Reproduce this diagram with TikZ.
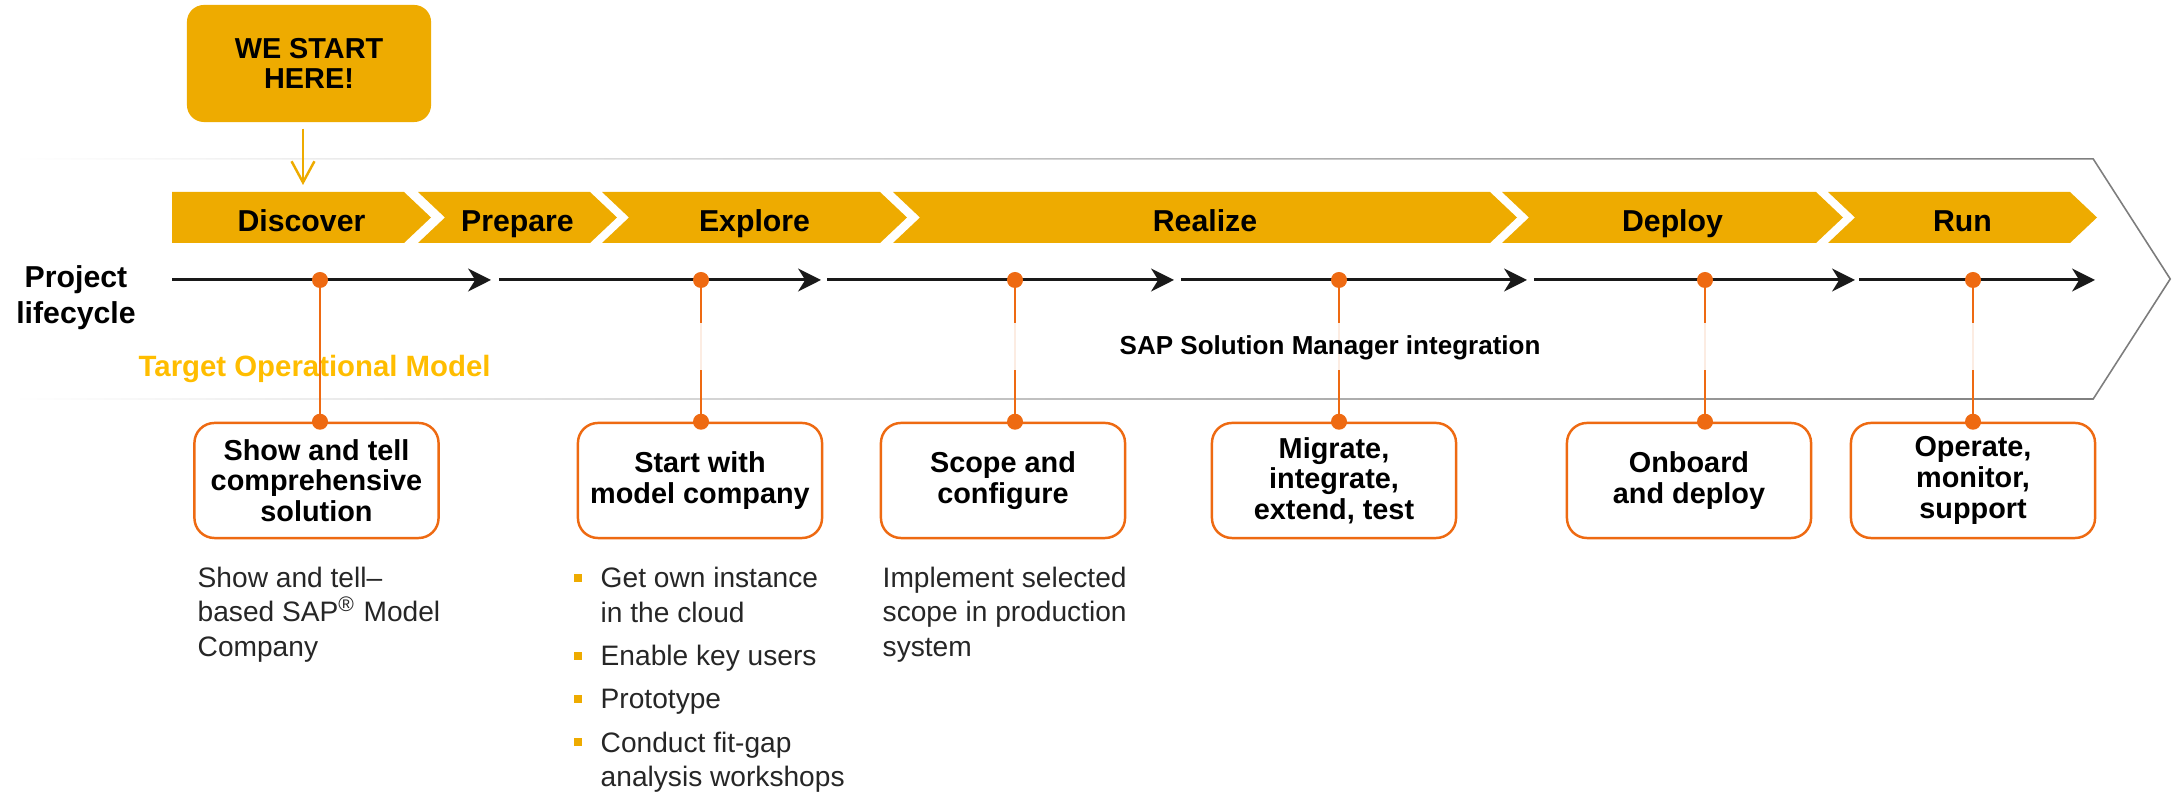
\documentclass[tikz,border=0pt]{standalone}
\usepackage{fontspec}
\setmainfont{Liberation Sans}
\usetikzlibrary{arrows.meta,positioning,calc,fadings}

\definecolor{sapgold}{HTML}{EEAB00}
\definecolor{saporange}{HTML}{EE6A12}
\definecolor{tomyellow}{HTML}{FFBD00}
\definecolor{framegray}{HTML}{7A7A7A}
\newcommand{\sqbul}{\textcolor{sapgold}{\rule[0.06cm]{0.08cm}{0.08cm}}}

\tikzset{
  phase/.style={font=\bfseries\fontsize{8.6}{10}\selectfont, text height=1.5ex, text depth=.25ex, inner sep=0pt},
  stepbox/.style={draw=saporange, line width=0.7pt, rounded corners=0.2cm, fill=white,
    minimum width=2.44cm, minimum height=1.15cm, align=center, inner sep=0pt,
    font=\bfseries\fontsize{8.2}{8.7}\selectfont},
  lifeline/.style={line width=0.85pt, black!90, -{Stealth[length=6.5pt,width=6.5pt,inset=2pt]}},
  link/.style={saporange, line width=0.7pt},
  note/.style={font=\fontsize{8}{9.8}\selectfont, align=left, inner sep=0pt, anchor=north west, text=black!85},
}

\begin{document}
\begin{tikzpicture}[x=0.01cm, y=-0.01cm]
    \useasboundingbox (0,0) rectangle (2172,792);
    % Outer frame
    \draw[framegray, line width=0.45pt, path fading=west]
         (20,159) -- (2093,159) -- (2170,279) -- (2093,399) -- (20,399);
    % Start marker
    \node[fill=sapgold, rounded corners=0.17cm, minimum width=2.44cm, minimum height=1.17cm,
          align=center, inner sep=0pt, font=\bfseries\fontsize{8.2}{8.6}\selectfont]
         (start) at (309,63.5) {WE START\\HERE!};
    \coordinate (startpin) at (303,185);
    \draw[sapgold, line width=0.7pt, -{Straight Barb[length=6pt,width=6.5pt]}]
         ([yshift=-0.06cm]start.south -| startpin) -- (startpin);
    % Phases
    \foreach \l/\r/\k/\n/\t in {172/404/0/disc/Discover, 418/590/27/prep/Prepare,
        602/880/27/expl/Explore, 893/1490/27/real/Realize,
        1502/1816/27/depl/Deploy, 1828/2070/27/run/Run} {
      \fill[sapgold] (\l,192) -- (\r,192) -- (\r+27,217.5) -- (\r,243) -- (\l,243) -- (\l+\k,217.5) -- cycle;
      \node[phase] (\n) at ({(\l+\r+27)/2},219.5) {\t};
    }
    % Lifecycle arrows
    \foreach \a/\b [count=\i] in {172/491, 499/821, 827/1174, 1181/1527, 1534/1855, 1859/2095} {
      \coordinate (t\i a) at (\a,280);
      \coordinate (t\i b) at (\b,280);
      \draw[lifeline] (t\i a) -- (t\i b);
    }
    \node[font=\bfseries\fontsize{8.6}{10.2}\selectfont, align=center, inner sep=0pt]
         (life) at (76,298) {Project\\lifecycle};
    \node[anchor=west, inner sep=0pt, text=tomyellow, font=\bfseries\fontsize{8.35}{10}\selectfont]
         (tom) at (138,369) {Target Operational Model};
    % Steps
    \foreach \x/\bx/\n/\t in {320/316.5/show/{Show and tell\\comprehensive\\solution},
        701/700/model/{Start with\\model company},
        1015/1003/scope/{Scope and\\configure},
        1339/1334/migr/{Migrate,\\integrate,\\extend, test},
        1705/1689/onb/{Onboard\\and deploy},
        1973/1973/oper/{Operate,\\monitor,\\support}} {
      \coordinate (\n dot) at (\x,280);
      \node[stepbox] (\n) at (\bx,480.5) {\t};
      \draw[link] (\n dot) -- (\n dot |- \n.north);
      \fill[saporange] (\n dot) circle[radius=0.08cm];
      \fill[saporange] (\n dot |- \n.north) circle[radius=0.08cm];
    }
    \fill[white, opacity=0.88] (560,323) rectangle (2090,370);
    \node[anchor=west, inner sep=0pt, font=\bfseries\fontsize{7.4}{9}\selectfont]
         (solman) at (1119,348) {SAP Solution Manager integration};
    % Notes under the steps
    \node[note] (shownote) at (197,566) {Show and tell--\\based SAP\textsuperscript{®} Model\\Company};
    \node[note] (modelnote) at (573,563) {%
      \begin{tabular}{@{}l@{\hspace{0.19cm}}l@{}}
        \sqbul & Get own instance\\
               & in the cloud\\[2.5pt]
        \sqbul & Enable key users\\[2.5pt]
        \sqbul & Prototype\\[2.5pt]
        \sqbul & Conduct fit-gap\\
               & analysis workshops
      \end{tabular}};
    \node[note] (scopenote) at (882,566) {Implement selected\\scope in production\\system};
\end{tikzpicture}
\end{document}
